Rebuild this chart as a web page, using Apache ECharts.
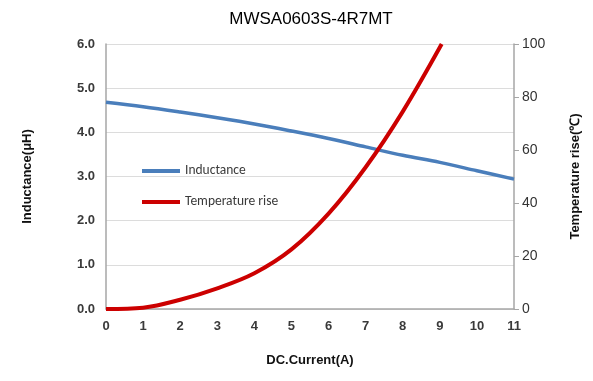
<!DOCTYPE html>
<html><head><meta charset="utf-8">
<script src="https://cdn.jsdelivr.net/npm/echarts@6/dist/echarts.min.js"></script>
<style>html,body{margin:0;padding:0;background:#fff}#c{width:593px;height:381px}</style>
</head><body><div id="c"></div>
<script>
const titleText = "MWSA0603S-4R7MT";
const indX = [0, 1, 2, 3, 4, 5, 6, 7, 8, 9, 10, 11];
const indY = [4.68, 4.58, 4.46, 4.33, 4.19, 4.03, 3.86, 3.67, 3.48, 3.32, 3.13, 2.94];
const tempX = [0, 1, 2, 3, 4, 5, 6, 7, 8, 9.05];
const tempY = [0, 0.5, 3.5, 7.8, 13.5, 22.5, 36, 53.5, 74.5, 100];
const seriesNames = ["Inductance", "Temperature rise"];

const labelStyle = {color:'#3a3a3a', fontSize:13, fontWeight:'bold', fontFamily:'Liberation Sans, Arial, sans-serif'};
const chart = echarts.init(document.getElementById('c'));
chart.setOption({
  animation:false,
  title:{text:titleText, left:306, top:6, textAlign:'center',
    textStyle:{fontSize:17, fontWeight:'normal', color:'#000', fontFamily:'Liberation Sans, Arial, sans-serif'}},
  grid:{left:106, right:79, top:44, bottom:72},
  legend:{orient:'vertical', left:137, top:159, itemGap:17, itemWidth:38, itemHeight:4,
    icon:'rect',
    textStyle:{color:'#3a3a3a', fontSize:13.5, fontFamily:'Carlito, Liberation Sans, sans-serif'},
    data:seriesNames},
  xAxis:{type:'value', min:0, max:11, interval:1,
    name:'DC.Current(A)', nameLocation:'middle', nameGap:45,
    nameTextStyle:{color:'#111', fontSize:13, fontWeight:'bold', fontFamily:'Liberation Sans, Arial, sans-serif'},
    axisLine:{lineStyle:{color:'#a6a6a6', width:1.5}},
    axisTick:{show:false}, splitLine:{show:false},
    axisLabel:Object.assign({margin:11}, labelStyle)},
  yAxis:[{type:'value', min:0, max:6, interval:1, position:'left',
    name:'Inductance(μH)', nameLocation:'middle', nameGap:72, nameRotate:90,
    nameTextStyle:{color:'#111', fontSize:13, fontWeight:'bold', fontFamily:'Liberation Sans, Arial, sans-serif'},
    axisLine:{show:true, lineStyle:{color:'#a6a6a6', width:1.5}},
    axisTick:{show:false},
    splitLine:{lineStyle:{color:'#dcdcdc', width:1}},
    axisLabel:Object.assign({margin:11, formatter:v=>v.toFixed(1)}, labelStyle)},
   {type:'value', min:0, max:100, interval:20, position:'right',
    name:'Temperature rise(℃)', nameLocation:'middle', nameGap:55, nameRotate:90,
    nameTextStyle:{color:'#111', fontSize:13, fontWeight:'bold', fontFamily:'Liberation Sans, Arial, sans-serif'},
    axisLine:{show:true, lineStyle:{color:'#a6a6a6', width:1.5}},
    axisTick:{show:true, inside:false, length:5, lineStyle:{color:'#a6a6a6'}},
    splitLine:{show:false},
    axisLabel:Object.assign({margin:8}, labelStyle, {fontWeight:'normal', fontSize:14, color:'#333'})}],
  series:[
    {name:seriesNames[0], type:'line', yAxisIndex:0, smooth:0.35, showSymbol:false,
     lineStyle:{color:'#4a7ebb', width:3.5}, itemStyle:{color:'#4a7ebb'},
     data:indX.map((x,i)=>[x, indY[i]])},
    {name:seriesNames[1], type:'line', yAxisIndex:1, smooth:0.35, showSymbol:false,
     lineStyle:{color:'#cc0000', width:4}, itemStyle:{color:'#cc0000'},
     data:tempX.map((x,i)=>[x, tempY[i]])}
  ]
});
</script></body></html>
